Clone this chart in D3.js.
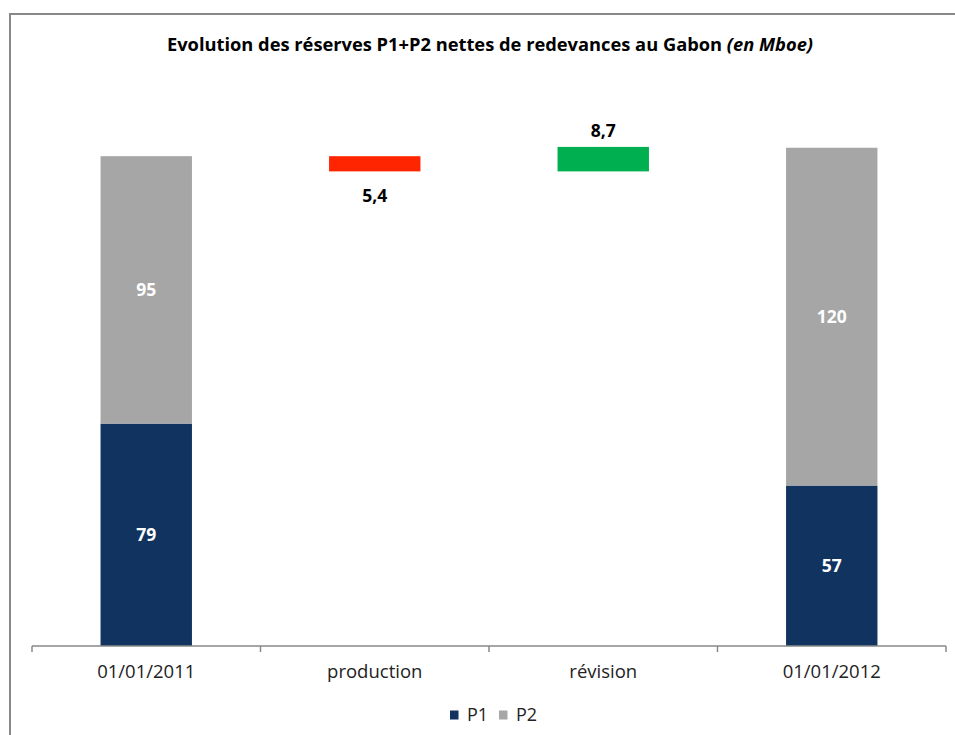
<!DOCTYPE html>
<html>
<head>
<meta charset="utf-8">
<script src="https://cdn.jsdelivr.net/npm/d3@7"></script>
<style>
	body { margin: 0; background: #fff; }
	svg { display: block; font-family: "Open Sans", sans-serif; }
</style>
</head>
<body>
<div id="chart"></div>
<script>
// values (Mboe)
const categories = ["01/01/2011", "production", "révision", "01/01/2012"];
const p1Values = [79, null, null, 57];
const p2Values = [95, null, null, 120];
const deltaValues = [null, -5.4, 8.7, null];
const legendLabels = ["P1", "P2"];

const width = 955;
const height = 735;
const colP1 = "#10335F";
const colP2 = "#A6A6A6";
const colDown = "#FF2500";
const colUp = "#00B050";

const fr = d3.formatLocale({ decimal: ",", thousands: " ", grouping: [3], currency: ["", " €"] });
const fmt = v => Number.isInteger(v) ? fr.format("d")(v) : fr.format(".1f")(v);

var svg = d3.select("#chart").append("svg")
	.attr("width", width)
	.attr("height", height);

// outer frame (runs off the right and bottom edge)
svg.append("path")
	.attr("d", `M10,${height + 5} L10,14 L${width + 5},14`)
	.attr("fill", "none")
	.attr("stroke", "#888888")
	.attr("stroke-width", 2);

svg.append("text")
	.attr("x", 490)
	.attr("y", 51)
	.attr("text-anchor", "middle")
	.style("font-size", "18.3px")
	.style("font-weight", "bold")
	.call(t => {
		t.append("tspan").text("Evolution des réserves P1+P2 nettes de redevances au Gabon ");
		t.append("tspan").style("font-style", "italic").text("(en Mboe)");
	});

const x = d3.scaleBand()
	.domain(categories)
	.range([32, 946])
	.paddingInner(0.6)
	.paddingOuter(0.3);

const y = d3.scaleLinear()
	.domain([0, 200])
	.range([646, 83]);

// build waterfall segments
var segments = [];
var running = 0;
categories.forEach((c, i) => {
	if (p1Values[i] != null) {
		segments.push({ cat: c, y0: 0, y1: p1Values[i], fill: colP1, label: p1Values[i], inside: true });
		segments.push({ cat: c, y0: p1Values[i], y1: p1Values[i] + p2Values[i], fill: colP2, label: p2Values[i], inside: true });
		running = p1Values[i] + p2Values[i];
	} else {
		const d = deltaValues[i];
		segments.push({ cat: c, y0: running, y1: running + d, fill: d < 0 ? colDown : colUp, label: Math.abs(d), inside: false, up: d > 0 });
		running += d;
	}
});

const bars = svg.append("g");
bars.selectAll("rect")
	.data(segments)
	.join("rect")
	.attr("x", d => x(d.cat))
	.attr("width", x.bandwidth())
	.attr("y", d => y(Math.max(d.y0, d.y1)))
	.attr("height", d => Math.abs(y(d.y0) - y(d.y1)))
	.attr("fill", d => d.fill);

bars.selectAll("text")
	.data(segments)
	.join("text")
	.attr("x", d => x(d.cat) + x.bandwidth() / 2)
	.attr("y", d => {
		if (d.inside) return (y(d.y0) + y(d.y1)) / 2;
		return d.up ? y(d.y1) - 16 : y(d.y1) + 24;
	})
	.attr("dy", "0.35em")
	.attr("text-anchor", "middle")
	.style("font-size", "17.5px")
	.style("font-weight", "bold")
	.style("fill", d => d.inside ? "#FFFFFF" : "#000000")
	.text(d => fmt(d.label));

// category axis with ticks between bands
const axisG = svg.append("g").attr("transform", `translate(0,${y(0)})`);
axisG.append("line")
	.attr("x1", x.range()[0]).attr("x2", x.range()[1])
	.attr("stroke", "#888888").attr("stroke-width", 1.5);
const step = (x.range()[1] - x.range()[0]) / categories.length;
axisG.selectAll(".tick")
	.data(d3.range(categories.length + 1))
	.join("line")
	.attr("x1", i => x.range()[0] + i * step)
	.attr("x2", i => x.range()[0] + i * step)
	.attr("y1", 0).attr("y2", 6)
	.attr("stroke", "#888888").attr("stroke-width", 1.5);
axisG.selectAll("text")
	.data(categories)
	.join("text")
	.attr("x", c => x(c) + x.bandwidth() / 2)
	.attr("y", 26)
	.attr("dy", "0.35em")
	.attr("text-anchor", "middle")
	.style("font-size", "18.5px")
	.style("fill", "#222")
	.text(c => c);

// legend
const legend = svg.append("g").attr("transform", "translate(450,715)");
const legendColors = [colP1, colP2];
const item = legend.selectAll("g")
	.data(legendLabels)
	.join("g")
	.attr("transform", (d, i) => `translate(${i * 49},0)`);
item.append("rect")
	.attr("x", 0).attr("y", -4.5)
	.attr("width", 8.5).attr("height", 9)
	.attr("fill", (d, i) => legendColors[i]);
item.append("text")
	.attr("x", 17)
	.attr("dy", "0.35em")
	.style("font-size", "18px")
	.style("fill", "#222")
	.text(d => d);
</script>
</body>
</html>
